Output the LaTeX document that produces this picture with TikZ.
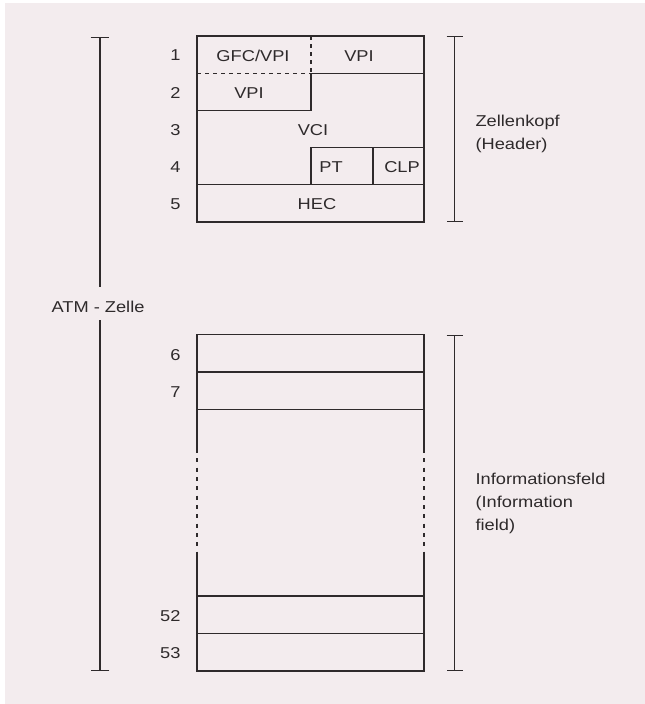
\documentclass[tikz,border=0pt]{standalone}
\usepackage{fontspec}
\setmainfont{Liberation Sans}[FakeStretch=1.16]
\usepackage{xcolor}
\usepackage{tikz}
\usetikzlibrary{arrows.meta, positioning}
\definecolor{paper}{HTML}{F3ECEE}
\definecolor{ink}{HTML}{2E2A2B}

\begin{document}
\begin{tikzpicture}[
  x=0.75pt, y=-0.75pt,
  line width=0.85pt,
  lbl/.style={font=\fontsize{11.8}{17}\selectfont, text=ink, inner sep=0pt},
  rownum/.style={lbl, anchor=east},
  side/.style={lbl, align=left, anchor=north west},
  frame/.style={draw=ink},
  gapline/.style={frame, dash pattern=on 3pt off 4pt},
  splitline/.style={frame, dash pattern=on 3pt off 3pt},
  span/.style={frame, {Bar[width=12pt]}-{Bar[width=12pt]}}
]
\useasboundingbox (0,0) rectangle (645,704);
\fill[paper] (5,3) rectangle (645,704);

% Zellenkopf
\draw[frame] (197,36) rectangle (424,222);
\draw[splitline] (311,36) -- (311,73.2);
\draw[splitline] (197,73.2) -- (311,73.2);
\draw[frame] (311,73.2) -- (424,73.2);
\draw[frame] (197,110.4) -| (311,73.2);
\draw[frame] (311,184.8) |- (424,147.6);
\draw[frame] (373,147.6) -- (373,184.8);
\draw[frame] (197,184.8) -- (424,184.8);

\node[lbl] (gfc) at (253,56) {GFC/VPI};
\node[lbl] (vpia) at (359,56) {VPI};
\node[lbl] (vpib) at (249,93) {VPI};
\node[lbl] (vci) at (313,130) {VCI};
\node[lbl] (pt) at (331,167) {PT};
\node[lbl] (clp) at (402,167) {CLP};
\node[lbl] (hec) at (317,204) {HEC};

\foreach \n [count=\k] in {1,...,5}
  \node[rownum] (row\n) at (181,{55.5+37.2*(\k-1)}) {\n};

% Informationsfeld
\draw[frame] (197,449) |- (424,334.5) -- (424,449);
\draw[frame] (197,554) |- (424,671) -- (424,554);
\draw[gapline] (197,449) -- (197,554);
\draw[gapline] (424,449) -- (424,554);
\foreach \y in {372,409.5,596,633.5}
  \draw[frame] (197,\y) -- (424,\y);

\node[rownum] (row6) at (181,355) {6};
\node[rownum] (row7) at (181,392.5) {7};
\node[rownum] (row52) at (181,616.5) {52};
\node[rownum] (row53) at (181,653.5) {53};

% Klammern
\node[lbl] (atm) at (98,306.7) {ATM - Zelle};
\coordinate (celltop) at (100,36.5);
\coordinate (cellbot) at (100,671);
\path ([yshift=10pt]atm.north) coordinate (gaptop)
      ([yshift=-5.5pt]atm.south) coordinate (gapbot);
\draw[frame, {Bar[width=14pt]}-] (celltop) -- (celltop |- gaptop);
\draw[frame, -{Bar[width=14pt]}] (cellbot |- gapbot) -- (cellbot);

\coordinate (headtop) at (454.5,36);
\coordinate (headbot) at (454.5,222);
\draw[span] (headtop) -- (headbot);
\node[side] (head) at (475,115) {Zellenkopf\\(Header)};

\coordinate (infotop) at (454.5,334.5);
\coordinate (infobot) at (454.5,671);
\draw[span] (infotop) -- (infobot);
\node[side] (info) at (475,473) {Informationsfeld\\(Information\\field)};
\end{tikzpicture}
\end{document}
